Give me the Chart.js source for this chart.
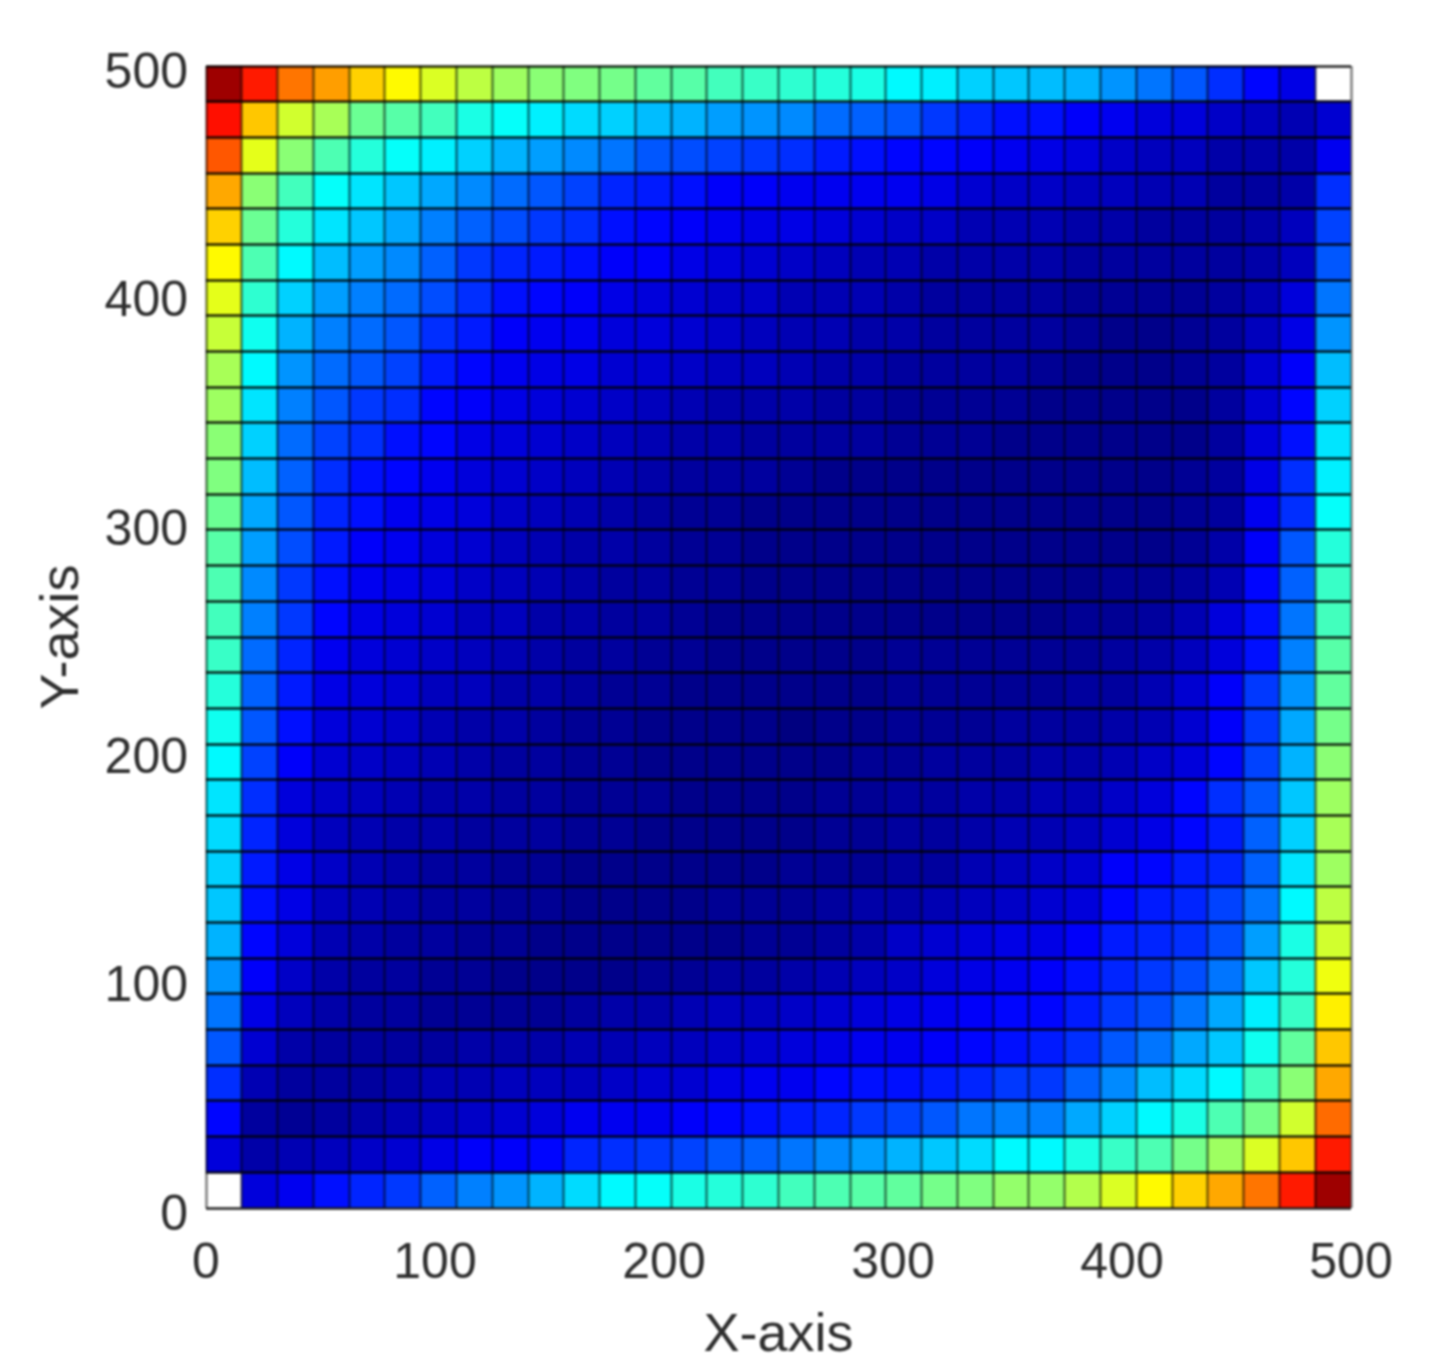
<!DOCTYPE html>
<html><head><meta charset="utf-8">
<style>html,body{margin:0;padding:0;background:#fff}canvas{display:block;filter:blur(0.9px)}</style>
<script src="https://cdn.jsdelivr.net/npm/chart.js@4/dist/chart.umd.js"></script>
</head><body><canvas id="c" width="1431" height="1359"></canvas>
<script>
// Cell values in percent of the colour range; rows listed from top (y≈500) to bottom (y≈0).
const r00=[97,85,76,72,67,63,59,56,53,51,50,49,47,46,44,43,42,41,40,37,36,33,32,31,30,27,24,21,17,13,10,null];
const r01=[86,68,58,54,48,46,44,40,38,36,34,33,31,30,28,27,26,23,22,21,18,16,14,14,12,11,9,9,7,6,5,8];
const r02=[79,60,51,45,41,38,36,33,30,28,26,24,21,20,19,18,17,15,14,13,13,12,11,10,9,7,6,6,4,4,4,11];
const r03=[71,51,44,38,35,32,29,26,23,21,19,16,15,14,12,12,11,11,11,11,10,8,7,7,6,6,5,5,3,3,4,17];
const r04=[67,48,41,35,32,29,25,22,20,18,17,14,13,12,11,10,10,9,8,7,7,5,5,5,4,4,3,3,3,4,6,19];
const r05=[63,45,37,31,28,26,22,18,16,15,14,12,12,10,9,8,7,6,5,5,4,4,4,4,3,3,3,3,3,4,6,21];
const r06=[60,42,33,28,25,23,20,17,14,13,12,10,9,8,7,7,5,5,5,4,3,3,3,3,2,2,2,2,3,5,9,24];
const r07=[57,39,30,25,23,21,17,15,12,11,11,9,9,8,7,6,5,5,4,4,3,3,3,3,2,1,1,2,3,6,10,27];
const r08=[54,37,27,23,21,19,15,13,11,10,10,8,8,7,6,6,5,4,4,3,3,3,3,2,1,1,1,2,3,8,12,31];
const r09=[53,35,25,21,18,17,13,12,10,9,8,7,6,5,4,4,4,3,3,2,2,2,2,1,1,1,1,1,3,8,13,33];
const r10=[51,33,23,19,17,14,13,10,9,8,7,6,5,4,4,3,3,3,3,2,2,2,1,1,1,1,1,1,3,9,14,35];
const r11=[50,31,22,17,14,13,11,9,8,7,6,5,4,3,3,3,2,1,1,1,1,1,1,1,1,1,1,2,3,10,17,36];
const r12=[48,29,21,16,14,11,10,9,7,6,5,4,3,2,2,1,1,1,1,1,1,1,1,1,1,1,1,2,3,11,17,38];
const r13=[46,28,20,15,12,11,9,8,6,5,4,4,3,2,2,1,1,1,1,1,1,1,1,1,1,1,1,2,4,12,21,41];
const r14=[45,26,18,14,11,10,9,7,6,5,4,3,3,2,2,1,1,1,1,1,1,1,1,1,1,2,2,3,5,13,22,43];
const r15=[44,25,18,13,10,9,8,6,6,4,4,3,3,2,1,1,1,1,1,1,1,1,1,1,2,2,3,5,9,14,24,44];
const r16=[43,23,16,11,9,8,7,6,5,4,3,3,2,2,1,1,1,1,1,2,2,2,2,2,2,3,4,6,9,14,25,46];
const r17=[41,22,15,10,9,8,6,6,4,4,3,2,2,1,1,1,1,1,1,2,2,2,2,2,3,3,5,8,12,18,27,47];
const r18=[39,21,14,9,8,7,5,4,4,3,2,2,1,1,1,1,0,1,1,2,2,2,3,3,3,4,5,8,12,18,29,49];
const r19=[37,19,12,8,7,6,5,4,3,3,2,2,1,1,1,1,1,1,2,2,3,3,3,4,4,5,7,9,13,19,30,51];
const r20=[35,17,9,7,6,5,4,4,3,3,2,2,2,1,1,1,1,2,2,3,3,4,4,5,5,7,9,13,17,21,32,53];
const r21=[34,16,9,6,5,4,4,3,3,3,2,2,1,1,1,1,1,2,2,3,3,4,5,5,6,8,10,13,15,22,33,54];
const r22=[33,15,10,7,5,4,3,3,2,2,1,1,1,1,1,1,2,2,2,3,3,5,6,7,8,12,13,15,16,22,35,53];
const r23=[32,14,10,6,5,4,3,3,2,2,1,1,1,1,2,2,2,3,4,4,5,6,7,8,9,13,15,16,19,24,37,56];
const r24=[30,13,9,5,4,3,3,2,2,1,1,1,1,1,1,2,2,3,4,7,8,9,10,10,12,15,16,17,20,28,40,58];
const r25=[27,12,7,4,3,3,2,2,1,1,1,1,2,2,3,3,4,5,6,7,9,10,11,12,14,16,18,20,24,32,41,61];
const r26=[24,10,6,4,3,3,2,2,2,2,3,4,4,5,6,6,7,8,9,10,11,12,13,13,15,18,20,24,29,36,43,64];
const r27=[21,8,4,3,3,3,3,4,4,4,5,5,6,6,7,8,9,10,11,11,12,13,14,15,17,21,24,29,32,39,47,68];
const r28=[17,5,3,3,3,4,5,5,6,6,6,7,8,8,10,11,11,13,14,14,15,16,18,18,22,26,31,34,37,44,51,71];
const r29=[13,3,2,3,4,5,6,7,8,9,11,11,11,12,13,14,15,16,18,19,21,24,25,25,29,33,37,40,45,49,58,77];
const r30=[9,4,5,6,7,8,10,12,12,13,16,17,18,19,21,22,24,26,28,30,32,34,37,37,40,43,45,49,53,59,68,85];
const r31=[null,9,11,14,16,18,22,25,27,30,34,37,38,40,41,42,44,45,46,47,49,50,52,52,55,59,63,67,71,76,85,97];
const rowsTopDown=[r00,r01,r02,r03,r04,r05,r06,r07,r08,r09,r10,r11,r12,r13,r14,r15,r16,r17,r18,r19,r20,r21,r22,r23,r24,r25,r26,r27,r28,r29,r30,r31];
const axisMax=500;
const cellSize=axisMax/rowsTopDown.length;
const xTitle='X-axis', yTitle='Y-axis';

function jet(p){
  const v=p/100;
  const c=(t)=>Math.round(255*Math.max(0,Math.min(1,t)));
  return `rgb(${c(1.5-Math.abs(4*v-3))},${c(1.5-Math.abs(4*v-2))},${c(1.5-Math.abs(4*v-1))})`;
}
const datasets=rowsTopDown.map((row,r)=>({
  type:'bar',xAxisID:'x',yAxisID:'y',grouped:false,
  barPercentage:1,categoryPercentage:1,borderWidth:0,
  data:row.map((v,c)=>({x:(c+0.5)*cellSize,y:[axisMax-(r+1)*cellSize,axisMax-r*cellSize],v}))
          .filter(d=>d.v!==null),
  backgroundColor:(ctx)=>ctx.raw?jet(ctx.raw.v):'#000'
}));
const tickFont={family:'"Liberation Sans",Arial,sans-serif',size:50};
const titleFont={family:'"Liberation Sans",Arial,sans-serif',size:54,lineHeight:1};
const ink='#2e2e2e';
new Chart(document.getElementById('c'),{
  type:'bar',
  data:{datasets},
  options:{
    responsive:false,animation:false,devicePixelRatio:1,
    layout:{padding:{top:66,right:80,left:0,bottom:0}},
    plugins:{legend:{display:false},tooltip:{enabled:false}},
    scales:{
      x:{type:'linear',min:0,max:axisMax,position:'bottom',offset:false,
        grid:{display:false,offset:false},border:{display:false},
        ticks:{stepSize:100,color:ink,font:tickFont,padding:18,maxRotation:0,autoSkip:false},
        title:{display:true,text:xTitle,color:ink,font:titleFont,padding:{top:0,bottom:-4}},
        afterFit:s=>{s.height=151;}},
      y:{type:'linear',min:0,max:axisMax,position:'left',
        grid:{display:false},border:{display:false},
        ticks:{stepSize:100,color:ink,font:tickFont,padding:10,autoSkip:false,labelOffset:8},
        title:{display:true,text:yTitle,color:ink,font:titleFont,padding:{top:36,bottom:0}},
        afterFit:s=>{s.width=206;}},
      x2:{type:'linear',axis:'x',min:0,max:axisMax,position:'top',offset:false,
        grid:{z:1,offset:false,color:'rgba(0,0,0,0.42)',lineWidth:3,drawTicks:false},border:{display:false},
        ticks:{display:false,stepSize:cellSize,autoSkip:false,maxTicksLimit:40},
        afterFit:s=>{s.height=0;}},
      y2:{type:'linear',axis:'y',min:0,max:axisMax,position:'right',
        grid:{z:1,offset:false,color:'rgba(0,0,0,0.72)',lineWidth:3,drawTicks:false},border:{display:false},
        ticks:{display:false,stepSize:cellSize,autoSkip:false,maxTicksLimit:40},
        afterFit:s=>{s.width=0;}}
    }
  }
});
</script></body></html>
